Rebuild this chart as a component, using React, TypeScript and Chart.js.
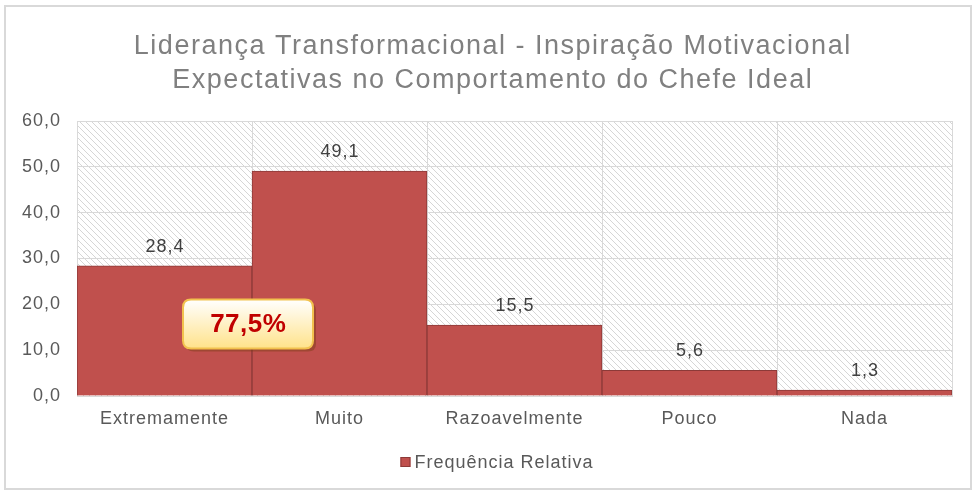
import React, { useEffect, useRef } from "react";
import { Chart, registerables } from "chart.js";

Chart.register(...registerables);

const titleLines = [
  "Liderança Transformacional - Inspiração Motivacional",
  "Expectativas no Comportamento do Chefe Ideal",
];
const categories = ["Extremamente", "Muito", "Razoavelmente", "Pouco", "Nada"];
const values = [28.4, 49.1, 15.5, 5.6, 1.3];
const seriesName = "Frequência Relativa";
const yTicks = [0, 10, 20, 30, 40, 50, 60];
const calloutIdx = [0, 1];
const calloutY = 15.7;

const FONT = "'Liberation Sans', Arial, sans-serif";
const fmt = (v: number) => v.toFixed(1).replace(".", ",");

function makePattern(ctx: CanvasRenderingContext2D) {
  const n = 6;
  const c = document.createElement("canvas");
  c.width = n;
  c.height = n;
  const p = c.getContext("2d")!;
  p.fillStyle = "#ffffff";
  p.fillRect(0, 0, n, n);
  p.strokeStyle = "#d6d6d6";
  p.lineWidth = 1;
  p.beginPath();
  p.moveTo(0, 0);
  p.lineTo(n, n);
  p.moveTo(-n / 2, n / 2);
  p.lineTo(n / 2, n * 1.5);
  p.moveTo(n / 2, -n / 2);
  p.lineTo(n * 1.5, n / 2);
  p.moveTo(-n, 0);
  p.lineTo(0, n);
  p.moveTo(0, -n);
  p.lineTo(n, 0);
  p.stroke();
  return ctx.createPattern(c, "repeat")!;
}

function spacedText(ctx: CanvasRenderingContext2D, text: string, x: number, y: number, sp: number) {
  (ctx as any).letterSpacing = sp + "px";
  const w = ctx.measureText(text).width;
  const align = ctx.textAlign;
  let sx = x;
  if (align === "center") sx = x - (w - sp) / 2;
  else if (align === "right") sx = x - (w - sp);
  ctx.textAlign = "left";
  ctx.fillText(text, sx, y);
  ctx.textAlign = align;
}

const customPlugin = {
  id: "custom",
  beforeDraw(chart: any) {
    const ctx = chart.ctx as CanvasRenderingContext2D;
    const { chartArea } = chart;
    ctx.fillStyle = "#ffffff";
    ctx.fillRect(0, 0, chart.width, chart.height);
    ctx.strokeStyle = "#d9d9d9";
    ctx.lineWidth = 2;
    ctx.strokeRect(5, 6, 966, 483);
    ctx.fillStyle = makePattern(ctx);
    ctx.fillRect(chartArea.left, chartArea.top, chartArea.right - chartArea.left, chartArea.bottom - chartArea.top);
    (ctx as any).letterSpacing = "1px";
  },
  afterDatasetsDraw(chart: any) {
    const ctx = chart.ctx as CanvasRenderingContext2D;
    const meta = chart.getDatasetMeta(0);
    ctx.save();
    ctx.font = `18px ${FONT}`;
    ctx.fillStyle = "#404040";
    ctx.textAlign = "center";
    ctx.textBaseline = "middle";
    meta.data.forEach((bar: any, i: number) => {
      spacedText(ctx, fmt(values[i]), bar.x, bar.y - 19, 1);
    });

    // callout
    const xs = chart.scales.x;
    const ys = chart.scales.y;
    const cx = xs.getPixelForValue(0.5) - 4;
    const cy = ys.getPixelForValue(calloutY);
    const w = 130, h = 49, r = 8;
    const x0 = cx - w / 2, y0 = cy - h / 2;
    const rr = (x: number, y: number) => {
      ctx.beginPath();
      ctx.moveTo(x + r, y);
      ctx.lineTo(x + w - r, y);
      ctx.quadraticCurveTo(x + w, y, x + w, y + r);
      ctx.lineTo(x + w, y + h - r);
      ctx.quadraticCurveTo(x + w, y + h, x + w - r, y + h);
      ctx.lineTo(x + r, y + h);
      ctx.quadraticCurveTo(x, y + h, x, y + h - r);
      ctx.lineTo(x, y + r);
      ctx.quadraticCurveTo(x, y, x + r, y);
      ctx.closePath();
    };
    rr(x0 + 3, y0 + 3);
    ctx.fillStyle = "rgba(120,60,20,0.45)";
    ctx.fill();
    rr(x0, y0);
    const g = ctx.createLinearGradient(0, y0, 0, y0 + h);
    g.addColorStop(0, "#ffffff");
    g.addColorStop(1, "#ffe28a");
    ctx.fillStyle = g;
    ctx.fill();
    ctx.strokeStyle = "#f2c14e";
    ctx.lineWidth = 2;
    ctx.stroke();
    const total = calloutIdx.reduce((s, i) => s + values[i], 0);
    ctx.font = `bold 26px ${FONT}`;
    ctx.fillStyle = "#c00000";
    ctx.textAlign = "center";
    ctx.textBaseline = "middle";
    spacedText(ctx, fmt(total) + "%", cx, cy + 1, 0.5);
    ctx.restore();
  },
  afterDraw(chart: any) {
    const ctx = chart.ctx as CanvasRenderingContext2D;
    ctx.save();
    ctx.font = `27px ${FONT}`;
    ctx.fillStyle = "#808080";
    ctx.textAlign = "center";
    ctx.textBaseline = "alphabetic";
    spacedText(ctx, titleLines[0], 492, 54, 1.5);
    spacedText(ctx, titleLines[1], 492, 88, 1.5);

    // legend
    ctx.font = `18px ${FONT}`;
    (ctx as any).letterSpacing = "1px";
    const tw = ctx.measureText(seriesName).width;
    const total = 10 + 4 + tw;
    const lx = 497 - total / 2;
    ctx.fillStyle = "#c0504d";
    ctx.fillRect(lx, 457, 10, 10);
    ctx.strokeStyle = "#8c3a38";
    ctx.lineWidth = 1;
    ctx.strokeRect(lx + 0.5, 457.5, 9, 9);
    ctx.fillStyle = "#595959";
    ctx.textAlign = "left";
    ctx.textBaseline = "middle";
    ctx.fillText(seriesName, lx + 14, 463);
    ctx.restore();
    (ctx as any).letterSpacing = "0px";
  },
};

export default function App() {
  const ref = useRef<HTMLCanvasElement>(null);
  useEffect(() => {
    const chart = new Chart(ref.current!, {
      type: "bar",
      data: {
        labels: categories,
        datasets: [
          {
            label: seriesName,
            data: values,
            backgroundColor: "#c0504d",
            borderColor: "#8c3a38",
            borderWidth: 1,
            barPercentage: 1,
            categoryPercentage: 1,
          },
        ],
      },
      options: {
        responsive: false,
        animation: false,
        devicePixelRatio: 1,
        layout: { padding: { top: 121, right: 25, bottom: 60, left: 0 } },
        plugins: {
          legend: { display: false },
          title: { display: false },
          tooltip: { enabled: false },
        },
        scales: {
          x: {
            grid: { color: "#d9d9d9", drawTicks: false, offset: true },
            border: { color: "#d9d9d9" },
            ticks: { color: "#595959", font: { family: FONT, size: 18 }, padding: 12 },
            afterFit: (s: any) => {
              s.height = 40;
            },
          },
          y: {
            min: yTicks[0],
            max: yTicks[yTicks.length - 1],
            afterBuildTicks: (s: any) => {
              s.ticks = yTicks.map((v) => ({ value: v }));
            },
            grid: { color: "#d9d9d9", drawTicks: false },
            border: { color: "#d9d9d9" },
            ticks: {
              color: "#595959",
              font: { family: FONT, size: 18 },
              padding: 16,
              callback: (v: any) => fmt(Number(v)),
            },
            afterFit: (s: any) => {
              s.width = 77;
            },
          },
        },
      },
      plugins: [customPlugin],
    });
    return () => chart.destroy();
  }, []);
  return (
    <div style={{ position: "fixed", left: 0, top: 0, width: 977, height: 496, background: "#fff" }}>
      <canvas ref={ref} width={977} height={496} style={{ width: 977, height: 496, display: "block" }} />
    </div>
  );
}
